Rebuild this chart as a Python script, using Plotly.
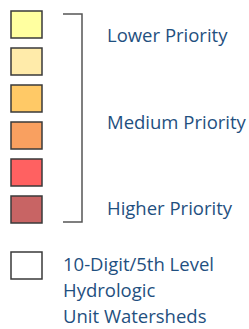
import plotly.graph_objects as go

# Data
priority_colors = ["#FFFFA0", "#FFEBAA", "#FFC966", "#F9A060", "#FF6161", "#C86464"]
priority_labels = ["Lower Priority", "Medium Priority", "Higher Priority"]
watershed_lines = ["10-Digit/5th Level", "Hydrologic", "Unit Watersheds"]

W, H = 249, 329
text_color = "#1F5080"
border = "#3a3a3a"
FONT = dict(family="Open Sans", size=18.5, color=text_color)

fig = go.Figure()
shapes = []
# priority swatches
for i, c in enumerate(priority_colors):
    y0 = 11 + 37 * i
    shapes.append(dict(type="rect", xref="x", yref="y", x0=11, x1=42, y0=y0, y1=y0 + 27,
                       fillcolor=c, line=dict(color=border, width=1.5)))
# bracket
shapes.append(dict(type="path", xref="x", yref="y",
                   path="M 63 14 L 82 14 L 82 222 L 63 222",
                   line=dict(color="#555555", width=1.5)))
# watershed swatch
shapes.append(dict(type="rect", xref="x", yref="y", x0=11, x1=42, y0=252, y1=279,
                   fillcolor="white", line=dict(color=border, width=1.5)))

label_y = [34, 121, 207]
annotations = []
for lbl, yy in zip(priority_labels, label_y):
    annotations.append(dict(x=105, y=yy, xref="x", yref="y", text=lbl, showarrow=False,
                            xanchor="left", yanchor="middle", font=FONT))
for j, line in enumerate(watershed_lines):
    annotations.append(dict(x=61, y=263 + 26 * j, xref="x", yref="y", text=line, showarrow=False,
                            xanchor="left", yanchor="middle", font=FONT))

fig.add_trace(go.Scatter(x=[0], y=[0], mode="markers", marker=dict(opacity=0), hoverinfo="skip",
                         showlegend=False))
fig.update_layout(
    width=W, height=H, margin=dict(l=0, r=0, t=0, b=0),
    paper_bgcolor="white", plot_bgcolor="white",
    xaxis=dict(range=[0, W], visible=False, fixedrange=True),
    yaxis=dict(range=[H, 0], visible=False, fixedrange=True),
    shapes=shapes, annotations=annotations, showlegend=False,
)
fig.write_html("out.html", config={"displayModeBar": False},
               post_script="document.body.style.margin='0';")
